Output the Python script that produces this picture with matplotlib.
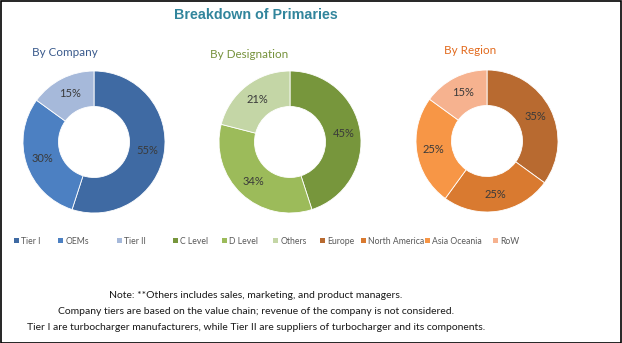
import matplotlib
matplotlib.use("Agg")
import matplotlib.pyplot as plt
from matplotlib.patches import Patch, Rectangle

plt.rcParams['font.family'] = ['Lato', 'DejaVu Sans']

title = "Breakdown of Primaries"

company_labels = ["Tier I", "OEMs", "Tier II"]
company_values = [55, 30, 15]
company_colors = ["#3F6AA3", "#4C80C2", "#A6B9DA"]

desig_labels = ["C Level", "D Level", "Others"]
desig_values = [45, 34, 21]
desig_colors = ["#77963C", "#9CBB5A", "#C4D6A6"]

region_labels = ["Europe", "North America", "Asia Oceania", "RoW"]
region_values = [35, 25, 25, 15]
region_colors = ["#B86A30", "#D97A30", "#F79646", "#F6B28F"]

notes = [
    "Note: **Others includes sales, marketing, and product managers.",
    "Company tiers are based on the value chain; revenue of the company is not considered.",
    "Tier I are turbocharger manufacturers, while Tier II are suppliers of turbocharger and its components.",
]

W, H = 622, 343
fig = plt.figure(figsize=(W / 100, H / 100), dpi=100)
fig.patch.set_facecolor("white")
fig.patches.append(Rectangle((0.5 / W, 0.5 / H), 1 - 1.5 / W, 1 - 1.5 / H, transform=fig.transFigure,
                             fill=False, edgecolor="black", linewidth=1.2))

def px_axes(cx, cy, r):
    return fig.add_axes([(cx - r) / W, (H - cy - r) / H, 2 * r / W, 2 * r / H])

donuts = [
    (94, 142, "By Company", "#3A5A8C", (65, 52), company_labels, company_values, company_colors,
     [14, 58, 117]),
    (290, 142, "By Designation", "#76923C", (249, 55), desig_labels, desig_values, desig_colors,
     [173, 222, 273]),
    (487, 141, "By Region", "#E26B1F", (470, 50), region_labels, region_values, region_colors,
     [320, 361, 425, 493]),
]

for cx, cy, sub, subcol, (sx, sy), labels, values, colors, legx in donuts:
    ax = px_axes(cx, cy, 71)
    wedges, texts, autotexts = ax.pie(values, colors=colors, startangle=90, counterclock=False,
                                      radius=1.0, autopct=lambda p: f"{p:.0f}%", pctdistance=0.76,
                                      wedgeprops=dict(width=0.5, edgecolor="white", linewidth=0.6),
                                      textprops=dict(fontsize=8, color="#3a3a3a"))
    ax.set_xlim(-1, 1)
    ax.set_ylim(-1, 1)
    ax.set_aspect("equal")
    ax.axis("off")
    fig.text(sx / W, 1 - sy / H, sub, ha="center", va="center", fontsize=8.4, color=subcol)
    for lab, col, x0 in zip(labels, colors, legx):
        leg = fig.legend([Patch(facecolor=col, edgecolor="none")], [lab], loc="center left",
                         bbox_to_anchor=(x0 / W, 1 - 241 / H), frameon=False, fontsize=6.2,
                         handlelength=0.55, handleheight=0.55, handletextpad=0.3,
                         borderaxespad=0, borderpad=0)
        for t in leg.get_texts():
            t.set_color("#595959")

fig.text(256 / W, 1 - 15 / H, title, ha="center", va="center", fontsize=10.3, fontweight="bold",
         color="#31859C", family=['Liberation Sans Narrow', 'DejaVu Sans Condensed', 'Liberation Sans'])

for i, line in enumerate(notes):
    fig.text(256 / W, 1 - (295 + 16 * i) / H, line, ha="center", va="center", fontsize=7.5, color="#1a1a1a")

fig.savefig("out.png", dpi=100)
